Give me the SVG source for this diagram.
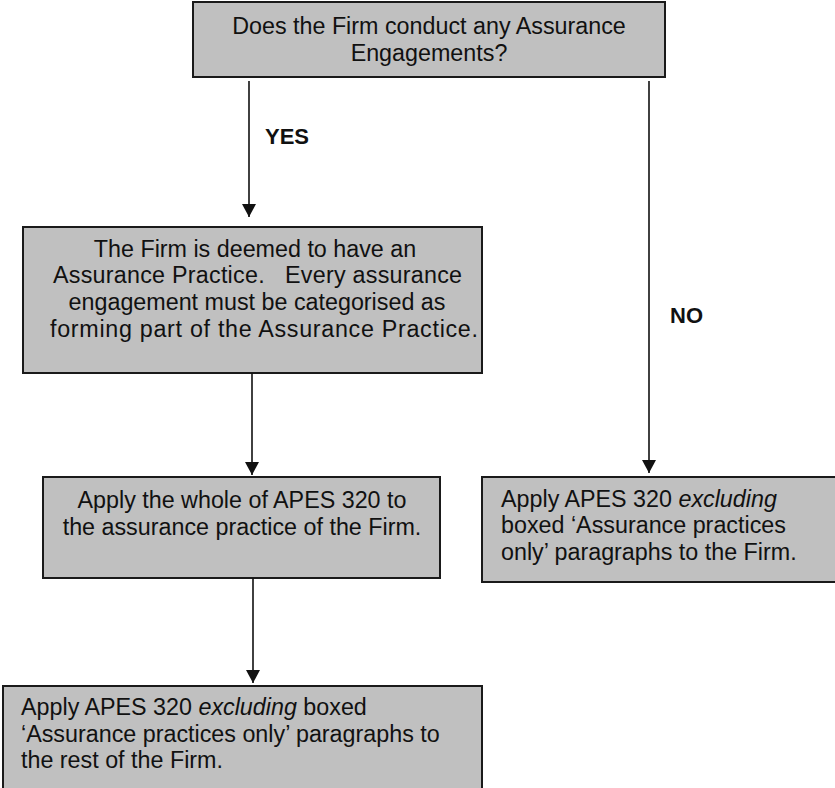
<svg xmlns="http://www.w3.org/2000/svg" width="835" height="788" viewBox="0 0 835 788">
<defs>
<style>
.box{fill:#c0c0c0;stroke:#1a1a1a;stroke-width:2}
.t{font-family:"Liberation Sans",Arial,sans-serif;font-size:23.3px;fill:#111}
.c{text-anchor:middle}
.lbl{font-family:"Liberation Sans",Arial,sans-serif;font-size:22px;font-weight:bold;fill:#111}
.ln{stroke:#111;stroke-width:1.6;fill:none}
</style>
<marker id="ah" markerUnits="userSpaceOnUse" markerWidth="14" markerHeight="14" viewBox="0 0 14 14" refX="13" refY="7" orient="auto">
<path d="M0,0 L13,7 L0,14 Z" fill="#111"/>
</marker>
</defs>
<g id="n-question">
<rect class="box" x="193" y="2" width="472" height="75"/>
<text class="t c" x="429" y="34">Does the Firm conduct any Assurance</text>
<text class="t c" x="429" y="61">Engagements?</text>
</g>
<g id="n-deemed">
<rect class="box" x="23" y="227" width="459" height="146"/>
<text class="t c" x="255" y="257">The Firm is deemed to have an</text>
<text class="t" x="53" y="283" xml:space="preserve" textLength="409" lengthAdjust="spacing">Assurance Practice.   Every assurance</text>
<text class="t c" x="257" y="310">engagement must be categorised as</text>
<text class="t" x="50" y="337" textLength="428" lengthAdjust="spacing">forming part of the Assurance Practice.</text>
</g>
<g id="n-whole">
<rect class="box" x="43" y="477" width="397" height="101"/>
<text class="t c" x="242" y="508">Apply the whole of APES 320 to</text>
<text class="t c" x="242" y="535">the assurance practice of the Firm.</text>
</g>
<g id="n-rest">
<rect class="box" x="3" y="686" width="479" height="110"/>
<text class="t" x="21" y="715">Apply APES 320 <tspan font-style="italic">excluding</tspan> boxed</text>
<text class="t" x="21" y="742">‘Assurance practices only’ paragraphs to</text>
<text class="t" x="21" y="768">the rest of the Firm.</text>
</g>
<g id="n-firm">
<rect class="box" x="482" y="477" width="360" height="105"/>
<text class="t" x="501" y="507">Apply APES 320 <tspan font-style="italic">excluding</tspan></text>
<text class="t" x="501" y="533">boxed ‘Assurance practices</text>
<text class="t" x="501" y="560">only’ paragraphs to the Firm.</text>
</g>
<g id="connectors">
<line class="ln" x1="249" y1="81" x2="249" y2="217" marker-end="url(#ah)"/>
<text class="lbl" x="265" y="144">YES</text>
<line class="ln" x1="649" y1="81" x2="649" y2="473" marker-end="url(#ah)"/>
<text class="lbl" x="670" y="323">NO</text>
<line class="ln" x1="252" y1="373" x2="252" y2="475" marker-end="url(#ah)"/>
<line class="ln" x1="253" y1="578" x2="253" y2="683" marker-end="url(#ah)"/>
</g>
</svg>
